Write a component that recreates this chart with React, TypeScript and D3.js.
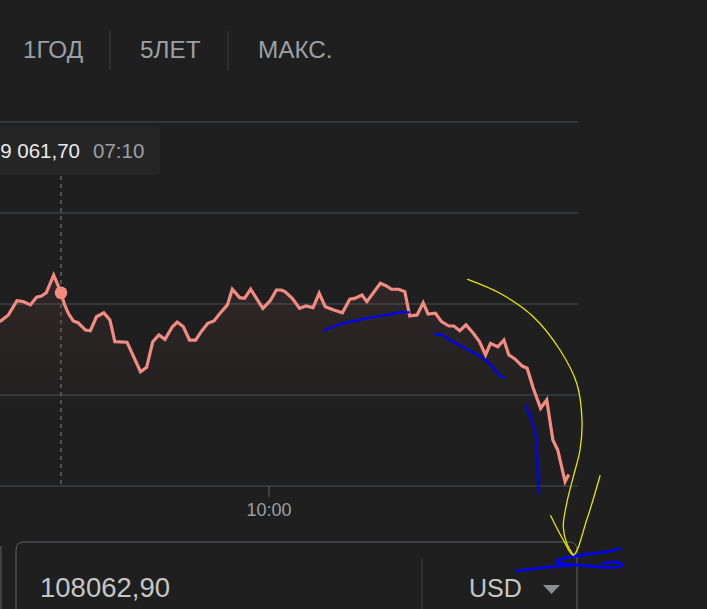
import React from "react";
import * as d3 from "d3";

// time in minutes since midnight, price in USD
const times: number[] = [
  380, 387, 394, 399, 405, 410, 414, 418, 424, 428, 430, 433, 436, 440, 444, 450, 454, 459, 465, 470,
  474, 484, 495, 500, 505, 510, 515, 521, 525, 530, 535, 540, 545, 550, 555, 560, 566, 570, 576, 580,
  585, 595, 601, 606, 610, 613, 619, 625, 630, 636, 641, 646, 653, 660, 666, 670, 676, 680, 691, 696,
  700, 706, 711, 715, 721, 726, 730, 736, 741, 747, 751, 756, 761, 767, 772, 777, 781, 787, 792, 796,
  801, 807, 811, 816, 822, 827, 832, 836, 842, 845,
];
const prices: number[] = [
  108903, 108940, 109018, 109013, 108995, 109037, 109044, 109062, 109159, 109095, 109061.7, 108995, 108949, 108907, 108897, 108857, 108853, 108930, 108952, 108912,
  108793, 108790, 108628, 108652, 108793, 108830, 108806, 108875, 108901, 108875, 108802, 108802, 108852, 108894, 108907, 108949, 108995, 109081, 109035, 109031,
  109081, 108976, 109018, 109077, 109077, 109068, 109031, 108976, 108989, 108980, 109059, 108985, 108967, 108952, 109026, 109031, 109049, 109013, 109114, 109099,
  109081, 109081, 109068, 108934, 108940, 109007, 108945, 108949, 108903, 108879, 108879, 108853, 108885, 108839, 108793, 108720, 108784, 108765, 108802, 108720,
  108698, 108659, 108647, 108537, 108427, 108473, 108253, 108198, 108024, 108062.9,
];
const priceTicks: number[] = [108000, 108500, 109000, 109500, 110000];
const timeTicks: number[] = [600];
const timeTickLabels: string[] = ["10:00"];
const tabLabels: string[] = ["1ГОД", "5ЛЕТ", "МАКС."];
const hoverTime = 430;
const hoverPrice = 109061.7;
const hoverPriceLabel = "9 061,70";
const hoverTimeLabel = "07:10";
const inputValue = "108062,90";
const currency = "USD";

// hand-drawn annotation strokes (page pixel coordinates)
const blueStroke1: [number, number][] = [[325, 330], [343, 323.5], [367, 318.3], [390, 314.3], [400, 312.4], [409, 312.3]];
const blueStroke2: [number, number][] = [[435, 334.3], [442, 335], [450, 340], [470, 350.7], [483, 358.3], [492, 366], [498, 374], [504, 377.7]];
const blueStroke3: [number, number][] = [[525.7, 405.7], [531.7, 420], [536, 436.7], [537.3, 460], [538.3, 493.3]];
const blueStroke4: [number, number][] = [[517, 571], [540, 568], [560, 566], [575, 565], [595, 566.5], [613, 567.5], [622, 565.5], [619, 562.5], [610, 562.2], [603, 563.5]];
const blueStroke5: [number, number][] = [[578, 565], [562, 563.5], [556, 561], [565, 558], [590, 554], [608, 551.5], [620, 548.5]];
const yellowStroke1: [number, number][] = [[467.7, 279.3], [500, 293.3], [533.3, 316.7], [560, 350], [576.7, 383.3], [582, 420], [580, 450], [573.3, 476.7], [566.7, 503.3], [563.3, 526.7], [566.7, 543.3], [573.3, 555]];
const yellowStroke2: [number, number][] = [[550.7, 515.7], [563.3, 540], [573.3, 555], [586.7, 520], [600, 475.7]];

const W = 707;
const H = 609;
const FONT = "'Liberation Sans', Arial, Helvetica, sans-serif";

export default function App() {
  const x = d3.scaleLinear().domain([430, 600]).range([61, 269]);
  const y = d3.scaleLinear().domain([108000, 110000]).range([486, 122]);

  const pts = times.map((t, i) => [t, prices[i]] as [number, number]);
  const line = d3
    .line<[number, number]>()
    .x((d) => x(d[0]))
    .y((d) => y(d[1]));
  const area = d3
    .area<[number, number]>()
    .x((d) => x(d[0]))
    .y0(486)
    .y1((d) => y(d[1]));

  const pen = d3
    .line<[number, number]>()
    .x((d) => d[0])
    .y((d) => d[1])
    .curve(d3.curveCatmullRom.alpha(0.5));

  const tabX = [23, 140, 258];
  const sepX = [110, 228];

  return (
    <svg
      width={W}
      height={H}
      style={{ position: "absolute", left: 0, top: 0, background: "#1f1f1f" }}
      fontFamily={FONT}
    >
      <defs>
        <linearGradient id="areaGrad" x1="0" y1="275" x2="0" y2="420" gradientUnits="userSpaceOnUse">
          <stop offset="0%" stopColor="#f28b82" stopOpacity={0.08} />
          <stop offset="100%" stopColor="#f28b82" stopOpacity={0} />
        </linearGradient>
      </defs>
      <rect x={0} y={0} width={W} height={H} fill="#1f1f1f" />

      {/* tabs */}
      {tabLabels.map((t, i) => (
        <text key={t} x={tabX[i]} y={58} fontSize={24.3} fill="#9aa0a6">
          {t}
        </text>
      ))}
      {sepX.map((sx) => (
        <line key={sx} x1={sx} x2={sx} y1={31} y2={70} stroke="#3c4043" strokeWidth={1} />
      ))}

      {/* gridlines */}
      {priceTicks.map((p) => (
        <line key={p} x1={0} x2={578} y1={y(p)} y2={y(p)} stroke="#3c4043" strokeWidth={1.6} />
      ))}

      {/* area + line */}
      <path d={area(pts) || ""} fill="url(#areaGrad)" />
      <line
        x1={x(hoverTime)}
        x2={x(hoverTime)}
        y1={176}
        y2={486}
        stroke="#5f6368"
        strokeWidth={1.5}
        strokeDasharray="4,4"
      />
      <path d={line(pts) || ""} fill="none" stroke="#f28b82" strokeWidth={3.2} strokeLinejoin="miter" />
      <circle cx={x(hoverTime)} cy={y(hoverPrice)} r={6.3} fill="#f28b82" />

      {/* x axis ticks */}
      {timeTicks.map((t, i) => (
        <g key={t}>
          <line x1={x(t)} x2={x(t)} y1={486} y2={497} stroke="#5f6368" strokeWidth={1} />
          <text x={x(t)} y={516} fontSize={18} fill="#9aa0a6" textAnchor="middle">
            {timeTickLabels[i]}
          </text>
        </g>
      ))}

      {/* tooltip */}
      <rect x={-10} y={126} width={170} height={49} rx={4} fill="#252525" />
      <text x={80} y={158} fontSize={20.5} fill="#e8eaed" textAnchor="end" fontWeight={500}>
        {hoverPriceLabel}
      </text>
      <text x={93} y={158} fontSize={20.5} fill="#9aa0a6">
        {hoverTimeLabel}
      </text>

      {/* input box */}
      <path
        d="M16,620 L16,550 Q16,542 24,542 L569,542 Q577,542 577,550 L577,620"
        fill="none"
        stroke="#5f6368"
        strokeWidth={1}
      />
      <line x1={1} x2={1} y1={546} y2={609} stroke="#5f6368" strokeWidth={1} />
      <line x1={422} x2={422} y1={559} y2={609} stroke="#3c4043" strokeWidth={1} />
      <text x={40} y={597} fontSize={27.5} fill="#c4c7c5">
        {inputValue}
      </text>
      <text x={469} y={597} fontSize={25} fill="#c4c7c5">
        {currency}
      </text>
      <path d="M543,585 L560,585 L551.5,594 Z" fill="#8a8d91" />

      {/* hand-drawn annotations */}
      {[blueStroke1, blueStroke2, blueStroke3].map((s, i) => (
        <path key={"b" + i} d={pen(s) || ""} fill="none" stroke="#0000ff" strokeWidth={2.2} strokeLinecap="round" />
      ))}
      {[blueStroke4, blueStroke5].map((s, i) => (
        <path key={"s" + i} d={pen(s) || ""} fill="none" stroke="#0000ff" strokeWidth={2.6} strokeLinecap="round" />
      ))}
      {[yellowStroke1, yellowStroke2].map((s, i) => (
        <path key={"y" + i} d={pen(s) || ""} fill="none" stroke="#e6e600" strokeWidth={1.3} strokeLinecap="round" />
      ))}
    </svg>
  );
}
